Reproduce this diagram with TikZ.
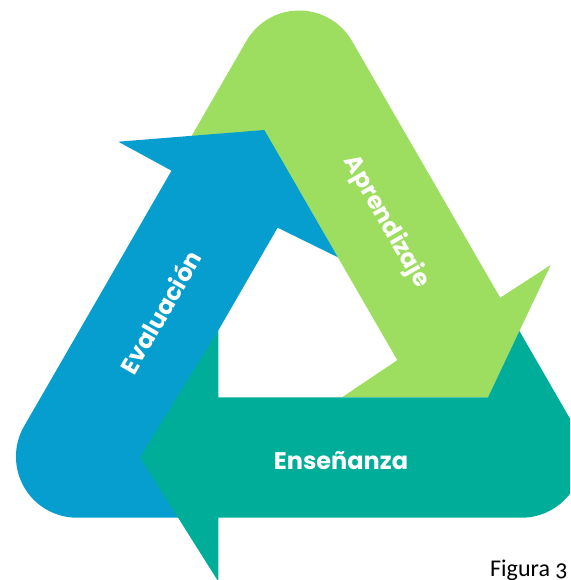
\documentclass[tikz,border=0pt]{standalone}
\usepackage{fontspec}
\setmainfont{Poppins}
\newfontfamily\capfont[Numbers=OldStyle]{Carlito}
\definecolor{greenA}{RGB}{157,222,96}
\definecolor{blueA}{RGB}{6,158,206}
\definecolor{tealA}{RGB}{0,173,152}
\tikzset{
  lbl/.style={text=white,font=\fontsize{24}{24}\selectfont\bfseries,inner sep=0pt},
  piece/.style={draw=none}
}
\begin{document}
\begin{tikzpicture}[x=1pt,y=1pt]
\useasboundingbox (0,0) rectangle (570,580);
\clip (0,0) rectangle (570,580);
% green (Aprendizaje)
\fill[greenA,piece] (488,182.7) -- (550.7,315) -- (500.2,282.3) -- (352,539)
  arc[start angle=30,end angle=150,radius=61] -- (179.1,422.3) -- (285.1,365.3)
  -- (299.2,389.7) -- (397.3,219.8) -- (342,182.7) -- cycle;
% blue (Evaluacion)
\fill[blueA,piece] (171.5,409.3) -- (24.1,153.8)
  arc[start angle=150,end angle=270,radius=61] -- (200,62.3) -- (200,182.7)
  -- (179.7,182.7) -- (277.6,352.3) -- (337.9,322.7) -- (264.3,450)
  -- (118.3,438.3) -- cycle;
% teal (Ensenanza)
\fill[tealA,piece] (140,122.7) -- (218.3,-1.5) -- (218.3,62.3) -- (521.5,62.3)
  arc[start angle=270,end angle=390,radius=61] -- (519.4,249.0) -- (488,182.7)
  -- (218.3,182.7) -- (218.3,249.6) -- cycle;
% labels
\node[lbl,rotate=-60] (apr) at (386,358) {Aprendizaje};
\node[lbl,rotate=60] (eva) at (160,268) {Evaluación};
\node[lbl,anchor=base] (ens) at (341,110) {Enseñanza};
\node[font=\capfont\fontsize{24}{24}\selectfont,anchor=base west,inner sep=0pt] (fig) at (490,3.5) {Figura 3};
\end{tikzpicture}
\end{document}
